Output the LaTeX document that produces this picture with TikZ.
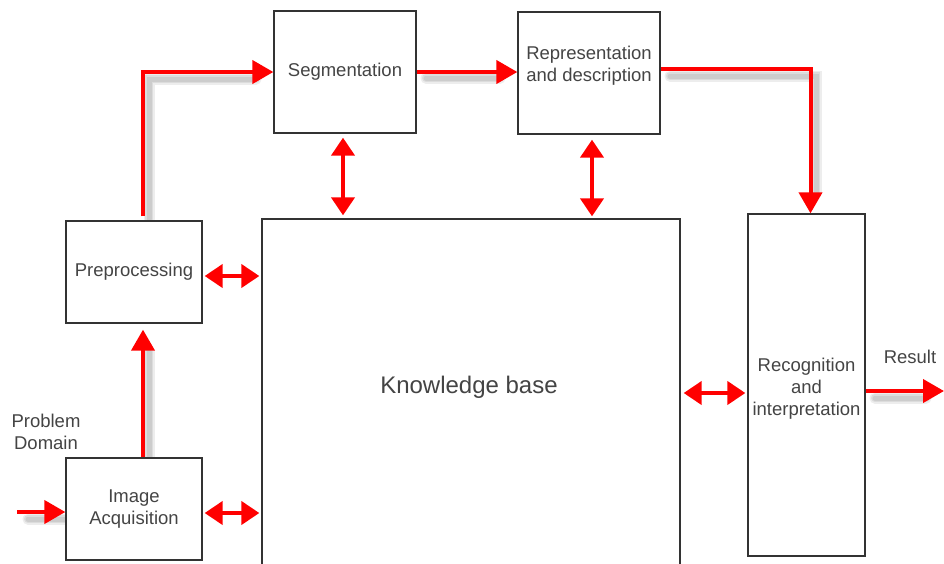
\documentclass[tikz,border=0pt]{standalone}
\usepackage{fontspec}
\setmainfont{Liberation Sans}
\usetikzlibrary{arrows.meta,calc}
\definecolor{txt}{HTML}{444444}
\definecolor{arr}{HTML}{FF0000}
\begin{document}
\begin{tikzpicture}[x=1pt,y=-1pt,
  box/.style={draw=black!80,line width=1.3pt,fill=white,text=txt,align=center,
    font=\fontsize{18.5}{22}\selectfont,inner sep=0pt},
  lbl/.style={text=txt,align=center,font=\fontsize{18.5}{22}\selectfont,inner sep=0pt},
  flow/.style={draw=arr,line width=4pt,-{Triangle[length=21pt,width=23pt]}},
  both/.style={draw=arr,line width=4pt,{Triangle[length=18pt,width=23pt]}-{Triangle[length=18pt,width=23pt]}},
  shadowline/.style={draw=black,opacity=0.07,line width=#1,line cap=round},
  shadowline/.default=6pt]
\clip (0,0) rectangle (944,563);
\fill[white] (0,0) rectangle (944,563);

% coordinates for free ends
\coordinate (in) at (17,512);
\coordinate (out) at (944,391);

% soft shadows (drawn first, under the boxes)
\foreach \w in {11pt,8pt,5pt}{
\begin{scope}[transform canvas={shift={(6pt,-7pt)}}]
\draw[shadowline=\w] (22,512) -- (60,512);
\draw[shadowline=\w] (143,454) -- (143,345);
\draw[shadowline=\w] (143,212) |- (250,72);
\draw[shadowline=\w] (420,71) -- (494,71);
\draw[shadowline=\w] (664,69) -| (810,186);
\draw[shadowline=\w] (869,391) -- (920,391);
\end{scope}}

% boxes
\node[box,minimum width=136pt,minimum height=102pt] (pre) at (134,272) {Preprocessing};
\node[box,minimum width=136pt,minimum height=102pt] (img) at (134,509) {Image\\Acquisition};
\node[box,minimum width=142pt,minimum height=122pt] (seg) at (345,72) {Segmentation};
\node[box,minimum width=142pt,minimum height=122pt] (rep) at (589,73) {};
\node[lbl] (reptxt) at (589,66) {Representation\\and description};
\node[box,minimum width=418pt,minimum height=482pt] (kb) at (471,460) {};
\node[lbl,font=\fontsize{24}{28}\selectfont] (kbtxt) at (469,387) {Knowledge base};
\node[box,minimum width=117pt,minimum height=342pt] (rec) at (806.5,385) {};
\node[lbl] (rectxt) at (806.5,389) {Recognition\\and\\interpretation};

% free labels
\node[lbl] (pd) at (46,432) {Problem\\Domain};
\node[lbl] (res) at (910,357) {Result};

% coordinates
\coordinate (a1) at ($(img.north)+(9,0)$);
\coordinate (a2) at ($(pre.north)+(9,-4)$);
\coordinate (a3) at ($(rep.east)+(0,-4)$);
\coordinate (a4) at ($(rec.north)+(4,0)$);
\coordinate (a5) at ($(rec.east)+(0,6)$);
\coordinate (d1) at ($(pre.east)+(2,4)$);
\coordinate (d2) at ($(img.east)+(2,4)$);
\coordinate (d3) at ($(seg.south)+(-2,4)$);
\coordinate (d4) at ($(rep.south)+(3,5)$);
\coordinate (d5) at ($(kb.east |- 0,393)+(3,0)$);

% flow arrows
\draw[flow] (in) -- (in -| img.west);
\draw[flow,shorten >=6pt] (a1) -- (a1 |- pre.south);
\draw[flow] (a2) |- (seg.west);
\draw[flow] (seg.east) -- (seg.east -| rep.west);
\draw[flow] (a3) -| (a4);
\draw[flow] (a5) -- (out);

% bidirectional arrows
\draw[both,shorten >=2pt] (d1) -- (d1 -| kb.west);
\draw[both,shorten >=2pt] (d2) -- (d2 -| kb.west);
\draw[both,shorten >=3pt] (d3) -- (d3 |- kb.north);
\draw[both,shorten >=2pt] (d4) -- (d4 |- kb.north);
\draw[both,shorten >=2pt] (d5) -- (d5 -| rec.west);
\end{tikzpicture}
\end{document}
